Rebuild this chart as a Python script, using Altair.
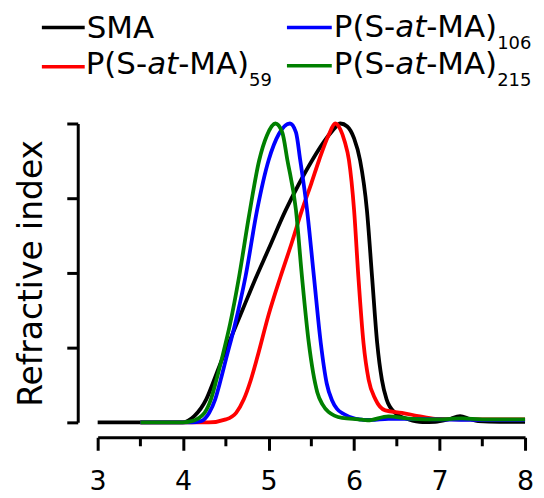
import altair as alt
import pandas as pd

# ---------------- data ----------------
series_names = ["SMA", "P(S-at-MA)59", "P(S-at-MA)106", "P(S-at-MA)215"]
series_colors = ["#000000", "#ff0000", "#0000ff", "#008000"]

sma_x = [3.0, 3.5, 3.99, 4.13, 4.27, 4.36, 4.44, 4.54, 4.7, 4.83, 5.0, 5.2, 5.35, 5.51,
         5.65, 5.75, 5.84, 5.92, 6.0, 6.07, 6.15, 6.21, 6.27, 6.325, 6.38, 6.48, 6.64,
         6.8, 6.95, 7.1, 7.24, 7.35, 7.45, 7.7, 8.0]
sma_y = [0.0, 0.0, 0.0, 0.021, 0.077, 0.14, 0.2, 0.27, 0.38, 0.47, 0.58, 0.71, 0.795, 0.877,
         0.94, 0.977, 1.0, 0.99, 0.95, 0.877, 0.71, 0.488, 0.266, 0.143, 0.077, 0.032, 0.01,
         0.001, 0.002, 0.01, 0.021, 0.012, 0.004, 0.002, 0.002]

p59_x = [3.5, 4.3, 4.5, 4.62, 4.71, 4.79, 4.87, 5.0, 5.14, 5.27, 5.39, 5.5, 5.59, 5.7,
         5.78, 5.84, 5.89, 5.94, 6.0, 6.05, 6.11, 6.17, 6.25, 6.365, 6.56, 6.75, 6.95,
         7.5, 8.0]
p59_y = [0.0, 0.0, 0.01, 0.032, 0.077, 0.14, 0.22, 0.36, 0.488, 0.6, 0.71, 0.8, 0.877, 0.96,
         1.0, 0.98, 0.94, 0.877, 0.71, 0.488, 0.266, 0.143, 0.077, 0.04, 0.032, 0.021, 0.012,
         0.01, 0.01]

p106_x = [3.5, 4.1, 4.21, 4.305, 4.375, 4.44, 4.5, 4.6, 4.73, 4.865, 5.0, 5.12, 5.25,
          5.32, 5.37, 5.45, 5.53, 5.61, 5.68, 5.74, 5.8, 5.88, 6.02, 6.2, 6.4, 6.6, 7.0,
          7.5, 8.0]
p106_y = [0.0, 0.0, 0.004, 0.032, 0.077, 0.143, 0.21, 0.32, 0.488, 0.71, 0.877, 0.965, 1.0,
          0.97, 0.877, 0.71, 0.488, 0.266, 0.13, 0.075, 0.045, 0.028, 0.012, 0.008, 0.012,
          0.012, 0.01, 0.008, 0.008]

p215_x = [3.5, 4.0, 4.1, 4.25, 4.325, 4.39, 4.45, 4.55, 4.655, 4.77, 4.89, 4.98, 5.08,
          5.16, 5.22, 5.32, 5.39, 5.47, 5.57, 5.63, 5.7, 5.86, 6.05, 6.16, 6.4, 6.67, 7.0,
          7.26, 7.5, 8.0]
p215_y = [0.0, 0.0, 0.004, 0.032, 0.077, 0.143, 0.21, 0.33, 0.488, 0.69, 0.877, 0.96, 1.0,
          0.97, 0.877, 0.71, 0.488, 0.266, 0.1, 0.06, 0.035, 0.015, 0.01, 0.007, 0.02, 0.012,
          0.01, 0.013, 0.01, 0.01]

major_ticks = [3, 4, 5, 6, 7, 8]
minor_ticks = [3.5, 4.5, 5.5, 6.5, 7.5]
y_ticks = [0, 0.25, 0.5, 0.75, 1]

rows = []
for name, xs, ys in zip(series_names,
                        [sma_x, p59_x, p106_x, p215_x],
                        [sma_y, p59_y, p106_y, p215_y]):
    rows += [{"series": name, "x": a, "y": b} for a, b in zip(xs, ys)]
df = pd.DataFrame(rows)

# ---------------- geometry / style ----------------
W, H = 429, 300
FONT = "DejaVu Sans"

x_scale = alt.Scale(domain=[3, 8], nice=False, zero=False)
y_scale = alt.Scale(domain=[0, 1], nice=False)
color_scale = alt.Scale(domain=series_names, range=series_colors)

x_axis = alt.Axis(values=major_ticks, title=None, grid=False, offset=15, tickSize=13,
                  tickWidth=3, domainWidth=3, domainColor="black", tickColor="black",
                  labelColor="black", labelFont=FONT, labelFontSize=27, labelPadding=18,
                  labelFlush=False, labelOverlap=False, format="d")
y_axis = alt.Axis(values=y_ticks, labels=False, grid=False, offset=20, tickSize=11,
                  tickWidth=3, domainWidth=3, domainColor="black", tickColor="black",
                  title="Refractive index", titleFont=FONT, titleFontSize=33,
                  titleFontWeight="normal", titleColor="black", titleX=-36, titleY=150,
                  titleAngle=270, titleAlign="center", titleBaseline="alphabetic")

layers = []
base = alt.Chart(df)
for i, name in enumerate(series_names):
    layers.append(
        base.transform_filter(alt.datum.series == name)
        .mark_line(strokeWidth=3.8, interpolate="monotone")
        .encode(
            x=alt.X("x:Q", scale=x_scale, axis=x_axis),
            y=alt.Y("y:Q", scale=y_scale, axis=y_axis),
            color=alt.Color("series:N", scale=color_scale, legend=None),
        )
    )

# minor ticks of x axis
layers.append(
    alt.Chart(pd.DataFrame({"x": minor_ticks}))
    .mark_rule(strokeWidth=3, color="black")
    .encode(x=alt.X("x:Q", scale=x_scale, axis=x_axis), y=alt.value(H + 15),
            y2=alt.value(H + 24))
)

# ---------------- custom legend ----------------
one = pd.DataFrame({"k": [0]})


def txt(text, x, y, size, italic=False):
    kw = dict(text=text, align="left", baseline="alphabetic", font=FONT, fontSize=size,
              color="black")
    if italic:
        kw["fontStyle"] = "italic"
    return alt.Chart(one).mark_text(**kw).encode(x=alt.value(x), y=alt.value(y))


LS = 31      # legend font size
SS = 18      # subscript size
off_at, off_ma, off_sub = 61.7, 92.8, 164.0

legend_entries = [
    # (color, swatch x0, x1, swatch y, text x, baseline y, subscript)
    ("#000000", -56, -13, -96.3, -11, -85.5, None),
    ("#ff0000", -56, -13, -57.0, -12, -49.5, "59"),
    ("#0000ff", 190, 235, -96.3, 237, -86.5, "106"),
    ("#008000", 190, 235, -58.0, 237, -49.5, "215"),
]
for color, x0, x1, sy, tx, by, sub in legend_entries:
    layers.append(
        alt.Chart(one).mark_rule(strokeWidth=3.5, color=color)
        .encode(x=alt.value(x0), x2=alt.value(x1), y=alt.value(sy))
    )
    if sub is None:
        layers.append(txt("SMA", tx, by, LS))
    else:
        layers.append(txt("P(S-", tx, by, LS))
        layers.append(txt("at", tx + off_at, by, LS, italic=True))
        layers.append(txt("-MA)", tx + off_ma, by, LS))
        layers.append(txt(sub, tx + off_sub, by + 12, SS))

chart = (
    alt.layer(*layers)
    .properties(width=W, height=H, autosize=alt.AutoSizeParams(type="none"),
                padding={"left": 90, "top": 115, "right": 11, "bottom": 75})
    .configure_view(strokeWidth=0)
)

chart.save("out.html", embed_options={"renderer": "svg", "actions": False})
